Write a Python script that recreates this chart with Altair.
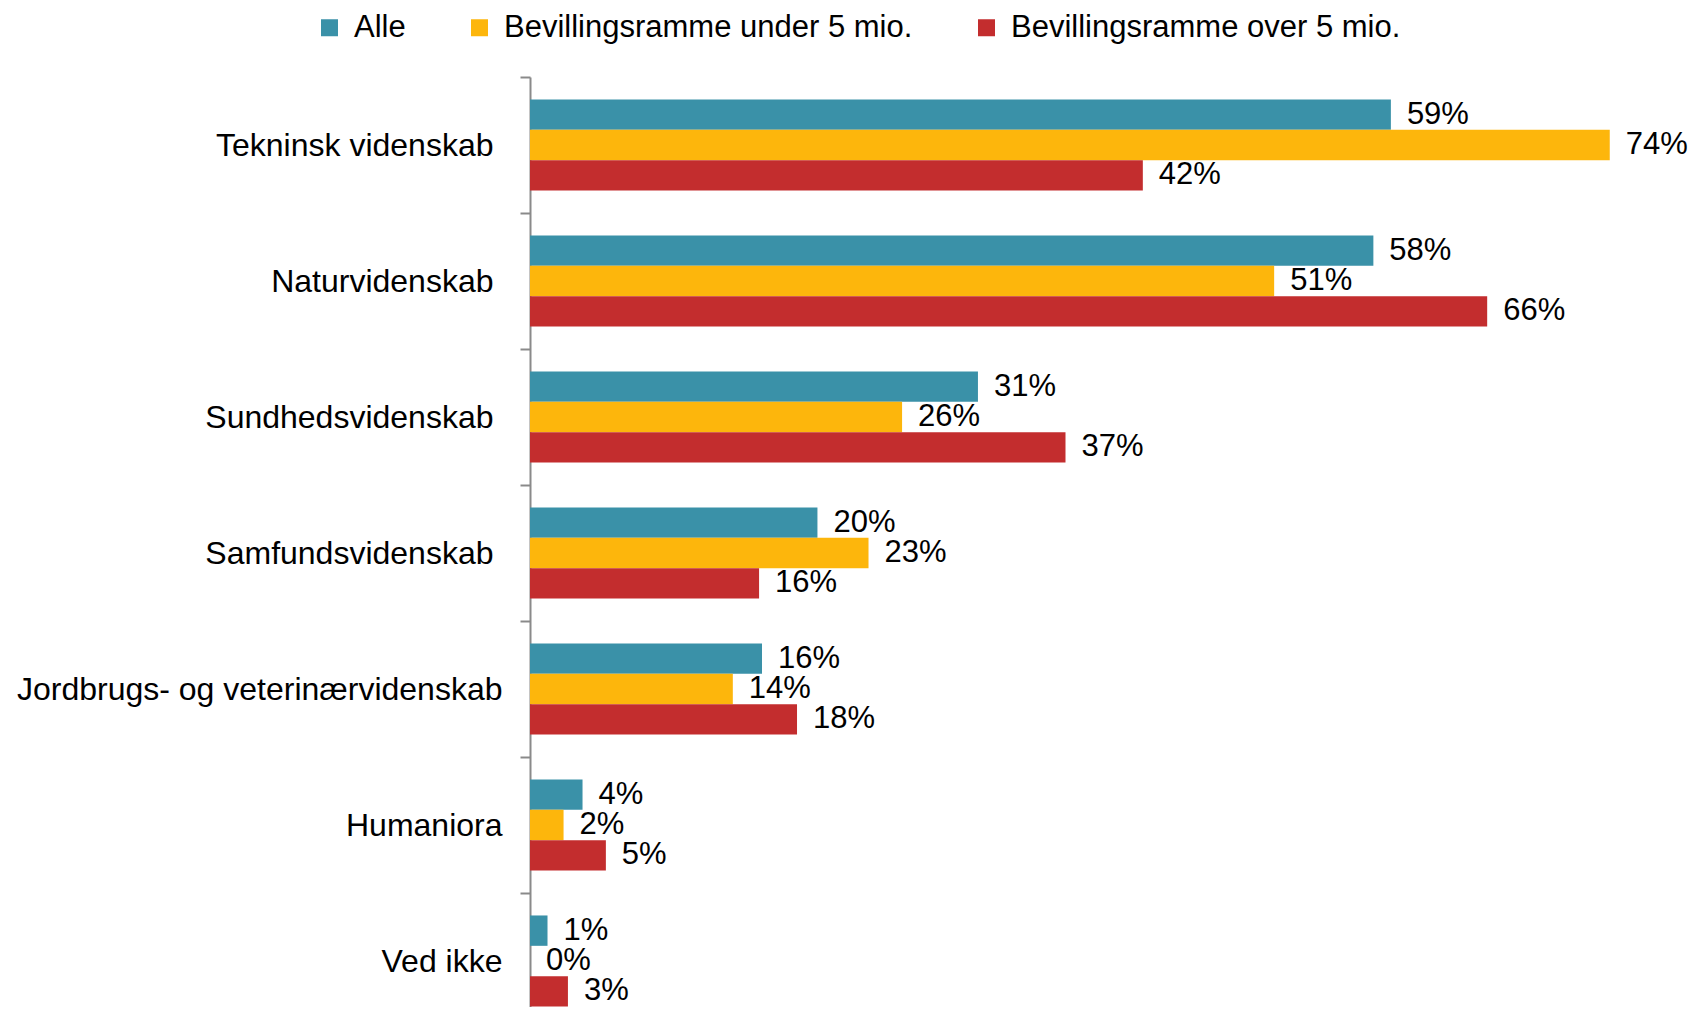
import altair as alt
import pandas as pd

categories = ["Tekninsk videnskab", "Naturvidenskab", "Sundhedsvidenskab",
              "Samfundsvidenskab", "Jordbrugs- og veterinærvidenskab",
              "Humaniora", "Ved ikke"]
series = ["Alle", "Bevillingsramme under 5 mio.", "Bevillingsramme over 5 mio."]
alle = [59.0, 57.8, 30.7, 19.7, 15.9, 3.6, 1.2]
under5 = [74.0, 51.0, 25.5, 23.2, 13.9, 2.3, 0.0]
over5 = [42.0, 65.6, 36.7, 15.7, 18.3, 5.2, 2.6]
colors = ["#3A91A8", "#FDB60C", "#C32D2E"]

rows = []
for s, vals in zip(series, [alle, under5, over5]):
    for c, v in zip(categories, vals):
        rows.append({"kategori": c, "serie": s, "andel": v / 100})
df = pd.DataFrame(rows)

FONT = "Liberation Sans"

y_enc = alt.Y("kategori:N", sort=categories, title=None,
              scale=alt.Scale(range=[0, 952], paddingInner=0, paddingOuter=0),
              axis=alt.Axis(domainColor="#8a8a8a", domainWidth=2, tickColor="#8a8a8a",
                            tickWidth=2, tickSize=10, tickBand="extent",
                            labelFontSize=32, labelColor="black", labelFont=FONT,
                            labelPadding={"condition": {
                                "test": "indexof(['Jordbrugs- og veterinærvidenskab','Humaniora','Ved ikke'], datum.value) >= 0",
                                "value": 18}, "value": 27},
                            labelLimit=600, grid=False))
yoff = alt.YOffset("serie:N", sort=series,
                   scale=alt.Scale(paddingInner=0, paddingOuter=0.74))
x_enc = alt.X("andel:Q", axis=None, scale=alt.Scale(domain=[0, 0.795], nice=False))

bars = alt.Chart(df).mark_bar().encode(
    x=x_enc, y=y_enc, yOffset=yoff,
    color=alt.Color("serie:N", sort=series,
                    scale=alt.Scale(domain=series, range=colors),
                    legend=alt.Legend(title=None, orient="none", direction="horizontal",
                                      legendX=-216, legendY=-65,
                                      symbolType="square", symbolSize=289,
                                      symbolStrokeWidth=0, labelFontSize=31,
                                      labelFont=FONT, labelColor="black",
                                      labelOffset=9, columnPadding=58, padding=0,
                                      labelLimit=800)),
)

labels = alt.Chart(df).mark_text(align="left", baseline="middle", dx=16,
                                 fontSize=31, font=FONT, color="black").encode(
    x=x_enc, y=alt.Y("kategori:N", sort=categories), yOffset=yoff,
    text=alt.Text("andel:Q", format=".0%"),
)

chart = alt.layer(bars, labels).properties(
    width=1160, height=930,
    autosize=alt.AutoSizeParams(type="none"),
    padding={"left": 522, "top": 69, "right": 0, "bottom": 0},
).configure(
    font=FONT
).configure_view(
    strokeWidth=0, stroke="transparent"
).configure_axis(
    grid=False
)

chart.save("out.html", embed_options={"renderer": "svg", "actions": False})
